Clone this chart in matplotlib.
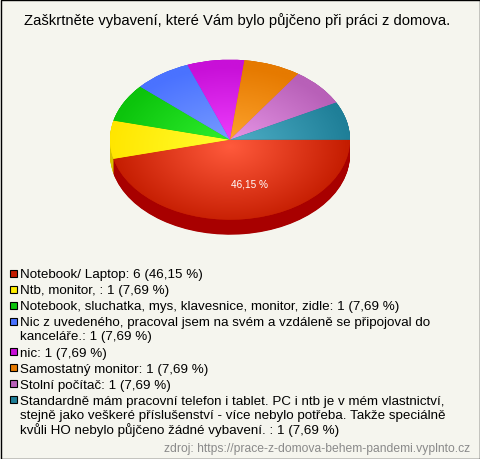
import numpy as np
import matplotlib
matplotlib.use("Agg")
import matplotlib.pyplot as plt
from matplotlib.colors import LinearSegmentedColormap
from matplotlib.patches import Rectangle

plt.rcParams['font.family'] = ['Liberation Sans', 'DejaVu Sans']

title = "Zaškrtněte vybavení, které Vám bylo půjčeno při práci z domova."
values = [6, 1, 1, 1, 1, 1, 1, 1]
rim_colors = ['#c41c00', '#ffe600', '#0cc40c', '#4a72ff', '#c810d8', '#e67a00', '#b860b8', '#1f7f98']
hub_colors = ['#ff5a3c', '#ffff30', '#30f030', '#7a9eff', '#f040ff', '#ffa630', '#e898e8', '#50b0c8']
side_colors = ['#a80000', '#d8c400', '#0aa00a', '#3a5ad0', '#a00cb0', '#b86000', '#905090', '#186478']
swatch_colors = ['#c41c00', '#ffee00', '#0cc40c', '#4a72ff', '#c810d8', '#e67a00', '#b860b8', '#1f7f98']
legend_lines = [
    ["Notebook/ Laptop: 6 (46,15 %)"],
    ["Ntb, monitor, : 1 (7,69 %)"],
    ["Notebook, sluchatka, mys, klavesnice, monitor, zidle: 1 (7,69 %)"],
    ["Nic z uvedeného, pracoval jsem na svém a vzdáleně se připojoval do",
     "kanceláře.: 1 (7,69 %)"],
    ["nic: 1 (7,69 %)"],
    ["Samostatný monitor: 1 (7,69 %)"],
    ["Stolní počítač: 1 (7,69 %)"],
    ["Standardně mám pracovní telefon i tablet. PC i ntb je v mém vlastnictví,",
     "stejně jako veškeré příslušenství - více nebylo potřeba. Takže speciálně",
     "kvůli HO nebylo půjčeno žádné vybavení. : 1 (7,69 %)"],
]
pie_label = "46,15 %"
source = "zdroj: https://prace-z-domova-behem-pandemi.vyplnto.cz"

W, H = 480, 460
BG = '#f5f5ee'
fig = plt.figure(figsize=(W / 100, H / 100), dpi=100, facecolor=BG)

# page axes in pixel coordinates
page = fig.add_axes([0, 0, 1, 1])
page.set_xlim(0, W)
page.set_ylim(H, 0)
page.axis('off')
page.text(237, 21, title, ha='center', va='center', fontsize=10.6, color='#000000')

legend_y = 274
for color, lines in zip(swatch_colors, legend_lines):
    page.add_patch(Rectangle((9.5, legend_y - 3.5), 7, 7, facecolor=color, edgecolor='#000000', lw=0.8))
    for i, line in enumerate(lines):
        page.text(20, legend_y + 1.2 + i * 14, line, ha='left', va='center', fontsize=9.6, color='#000000')
    legend_y += 16 + (len(lines) - 1) * 14.5
page.text(470, 449, source, ha='right', va='center', fontsize=8.77, color='#8a8a8a')
page.add_patch(Rectangle((0.5, 0.5), W - 1, H - 1, fill=False, edgecolor='#000000', lw=1))

# pie axes: ellipse 240 x 160 px centred on (230,140)
cx, cy, rx, ry = 230, 140.7, 120, 80
depth = 15 / ry
ax = fig.add_axes([(cx - rx) / W, 1 - (cy + ry + 15) / H, 2 * rx / W, (2 * ry + 15) / H])
ax.patch.set_alpha(0)

for d in np.linspace(depth, 0, 31):
    ax.pie(values, colors=side_colors, startangle=0, counterclock=False,
           center=(0, -d), radius=1, wedgeprops={'lw': 0})
wedges, _ = ax.pie(values, colors=rim_colors, startangle=0, counterclock=False,
                   center=(0, 0), radius=1, wedgeprops={'lw': 0})
ax.set_aspect('auto')

gx, gy = np.meshgrid(np.linspace(-1, 1, 400), np.linspace(-1, 1, 300))
rr = np.clip(np.hypot(gx, gy + 0.08), 0, 1)
for wedge, hub, rim in zip(wedges, hub_colors, rim_colors):
    cmap = LinearSegmentedColormap.from_list('w', [hub, rim])
    im = ax.imshow(rr, extent=(-1, 1, -1, 1), origin='lower', cmap=cmap, vmin=0, vmax=1,
                   aspect='auto', zorder=3, interpolation='bilinear')
    im.set_clip_path(wedge)
ax.set_xlim(-1, 1)
ax.set_ylim(-1 - depth, 1)
ax.text(0.16, -0.55, pie_label, ha='center', va='center', fontsize=7.2,
        color='#ffffff', zorder=5)

fig.savefig('out.png', dpi=100, facecolor=BG)
